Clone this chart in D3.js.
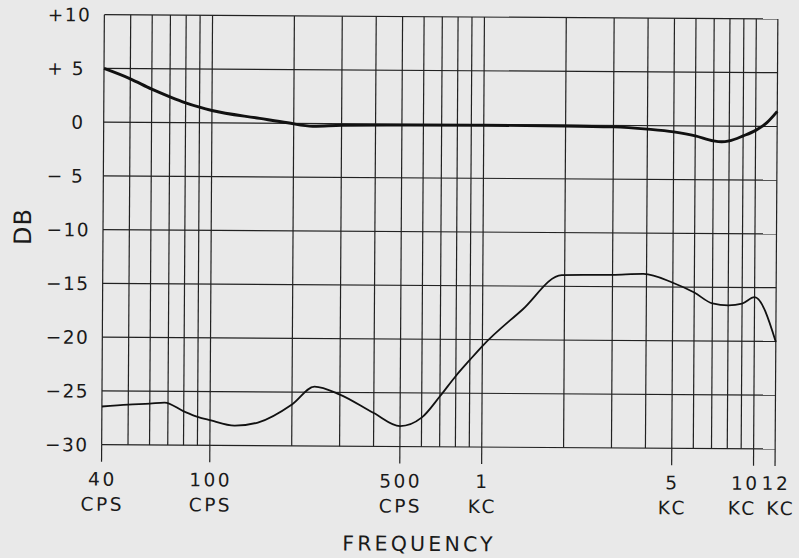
<!DOCTYPE html>
<html>
<head>
<meta charset="utf-8">
<script src="https://cdn.jsdelivr.net/npm/d3@7/dist/d3.min.js"></script>
<style>
  html, body { margin: 0; padding: 0; background: #e9e9e9; }
  svg { display: block; }
  text { font-family: "DejaVu Sans", "Liberation Sans", sans-serif; fill: #1a1a1a; }
</style>
</head>
<body>
<svg id="chart" width="799" height="558"></svg>
<script>
// ---- data ----
const upperFreq = [40, 50, 60, 70, 80, 90, 100, 150, 190, 235, 300, 500, 1000, 2000, 3000, 4000, 5000, 6000, 7000, 7500, 8000, 9000, 10000, 11000, 12000];
const upperDb   = [5, 4.05, 3.1, 2.4, 1.85, 1.45, 1.15, 0.45, 0.05, -0.25, -0.15, -0.1, -0.06, -0.08, -0.14, -0.33, -0.57, -0.92, -1.38, -1.46, -1.37, -0.9, -0.38, 0.35, 1.4];

const lowerFreq = [40, 50, 60, 68, 80, 90, 100, 123, 150, 200, 242, 300, 400, 500, 600, 700, 800, 900, 1000, 1400, 1950, 3000, 3900, 5000, 6000, 7000, 8000, 9000, 10000, 12000];
const lowerDb   = [-26.45, -26.25, -26.15, -26.05, -26.85, -27.35, -27.65, -28.15, -27.85, -26.15, -24.47, -25.2, -26.9, -28.1, -27.3, -25.3, -23.4, -21.9, -20.6, -17.2, -13.95, -13.9, -13.8, -14.6, -15.5, -16.5, -16.67, -16.5, -15.9, -20.05];

const gridFreqs = [40, 50, 60, 70, 80, 90, 100, 200, 300, 400, 500, 600, 700, 800, 900, 1000, 2000, 3000, 4000, 5000, 6000, 7000, 8000, 9000, 10000, 12000];
const gridDb = [-30, -25, -20, -15, -10, -5, 0, 5, 10];
const yTickLabels = ["\u221230", "\u221225", "\u221220", "\u221215", "\u221210", "\u2212 5", "0", "+ 5", "+10"];

const xTickFreqs = [40, 100, 500, 1000, 5000, 10000, 12000];
const xTickTop = ["40", "100", "500", "1", "5", "10", "12"];
const xTickBottom = ["CPS", "CPS", "CPS", "KC", "KC", "KC", "KC"];

const xTitle = "FREQUENCY";
const yTitle = "DB";

// ---- layout ----
const pLeft = 103, pRight = 776.5, pTop = 16.8, pBottom = 446.8;
const svg = d3.select("#chart");
const root = svg.append("g").attr("transform", "rotate(0.36, 440, 232)");

const x = d3.scaleLog().domain([40, 12000]).range([pLeft, pRight]);
const y = d3.scaleLinear().domain([-30, 10]).range([pBottom, pTop]);

const ink = "#222";

// vertical grid
root.append("g").selectAll("line").data(gridFreqs).join("line")
  .attr("x1", d => x(d)).attr("x2", d => x(d))
  .attr("y1", pTop).attr("y2", pBottom)
  .attr("stroke", ink).attr("stroke-width", 1.2);

// horizontal grid
root.append("g").selectAll("line").data(gridDb).join("line")
  .attr("x1", pLeft).attr("x2", pRight)
  .attr("y1", d => y(d)).attr("y2", d => y(d))
  .attr("stroke", ink).attr("stroke-width", 1.2);

// bottom tick marks
root.append("g").selectAll("line").data(xTickFreqs).join("line")
  .attr("x1", d => x(d)).attr("x2", d => x(d))
  .attr("y1", pBottom).attr("y2", pBottom + 17)
  .attr("stroke", ink).attr("stroke-width", 1.2);

// y tick labels
root.append("g").selectAll("text").data(gridDb).join("text")
  .attr("x", (d, i) => (yTickLabels[i].length >= 3 && yTickLabels[i][1] !== " ") ? 90 : 84)
  .attr("y", d => y(d) + 6.8)
  .attr("text-anchor", "end")
  .attr("font-size", 18.5)
  .attr("letter-spacing", 1.5)
  .text((d, i) => yTickLabels[i]);

// x tick labels (the two crowded right-hand labels are pushed apart)
const nudgeTop = l => l === "10" ? -8 : (l === "12" ? 1 : 1);
const nudgeBot = l => l === "10" ? -11 : (l === "12" ? 6 : 1);
const xl = root.append("g");
xl.selectAll("text.top").data(xTickFreqs).join("text").attr("class", "top")
  .attr("x", (d, i) => x(d) + nudgeTop(xTickTop[i]))
  .attr("y", pBottom + 41)
  .attr("text-anchor", "middle")
  .attr("font-size", 18.5)
  .attr("letter-spacing", 2.5)
  .text((d, i) => xTickTop[i]);
xl.selectAll("text.bot").data(xTickFreqs).join("text").attr("class", "bot")
  .attr("x", (d, i) => x(d) + nudgeBot(xTickTop[i]))
  .attr("y", pBottom + 66)
  .attr("text-anchor", "middle")
  .attr("font-size", 18.5)
  .attr("letter-spacing", 2.5)
  .text((d, i) => xTickBottom[i]);

// axis titles
root.append("text")
  .attr("x", 421).attr("y", 551)
  .attr("text-anchor", "middle")
  .attr("font-size", 20.5)
  .attr("letter-spacing", 3.2)
  .text(xTitle);

root.append("text")
  .attr("transform", "translate(31,229) rotate(-90)")
  .attr("text-anchor", "middle")
  .attr("font-size", 24)
  .attr("letter-spacing", 1)
  .text(yTitle);

// curves
const line = d3.line().x(d => x(d[0])).y(d => y(d[1])).curve(d3.curveMonotoneX);
root.append("path")
  .datum(d3.zip(upperFreq, upperDb))
  .attr("d", line)
  .attr("fill", "none").attr("stroke", "#111").attr("stroke-width", 2.9)
  .attr("stroke-linejoin", "round");
root.append("path")
  .datum(d3.zip(lowerFreq, lowerDb))
  .attr("d", line)
  .attr("fill", "none").attr("stroke", "#111").attr("stroke-width", 1.8)
  .attr("stroke-linejoin", "round");
</script>
</body>
</html>
